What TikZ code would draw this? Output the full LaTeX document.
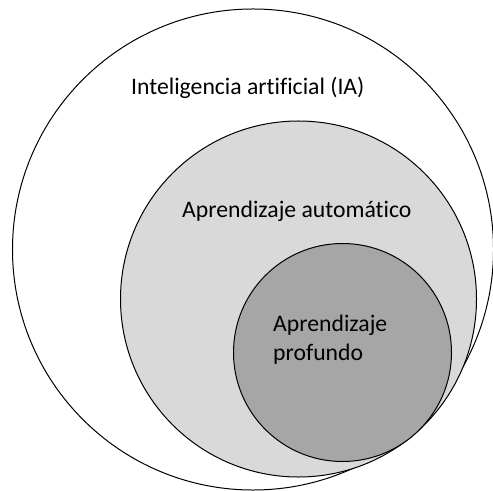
\documentclass[tikz,border=0pt]{standalone}
\usepackage{fontspec}
\setmainfont{Carlito}[Ligatures=NoCommon]
\usepackage{tikz}
\definecolor{grisclaro}{HTML}{D9D9D9}
\definecolor{grisoscuro}{HTML}{A6A6A6}
\tikzset{
    conjunto/.style={draw=black, line width=1bp},
    etiqueta/.style={inner sep=0pt, anchor=base west, align=left,
        font=\fontsize{23.7bp}{29bp}\selectfont}
}
\begin{document}
\begin{tikzpicture}[x=1bp, y=-1bp]
            \useasboundingbox (0,0) rectangle (493,491);
            % conjuntos anidados
            \draw [conjunto, fill=white] (253,249.5) circle [radius=240.5bp];
            \draw [conjunto, fill=grisclaro] (298.5,299) circle [radius=178bp];
            \draw [conjunto, fill=grisoscuro] (342.5,352.5) circle [radius=109bp];
            % etiquetas
            \node [etiqueta] (ia) at (131,94.3) {Inteligencia artificial (IA)};
            \node [etiqueta] (aa) at (182,217) {Aprendizaje automático};
            \node [etiqueta] (ap) at (273,360.5) {Aprendizaje\\profundo};
        \end{tikzpicture}
\end{document}
